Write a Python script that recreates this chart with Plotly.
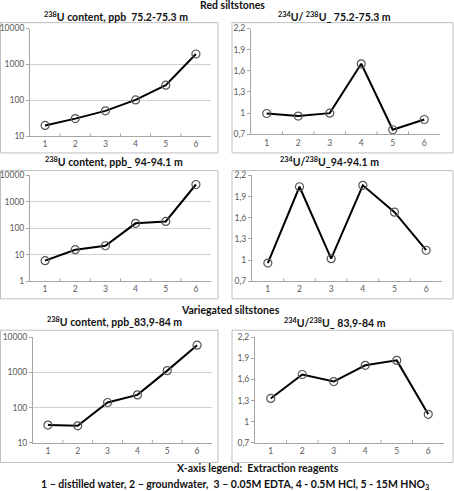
import plotly.graph_objects as go

W, H = 454, 491

categories = [1, 2, 3, 4, 5, 6]

u238_752 = [20, 31, 51, 103, 265, 1950]
ratio_752 = [0.995, 0.958, 1.0, 1.70, 0.765, 0.91]
u238_94 = [6.0, 15.6, 22, 155, 183, 4550]
ratio_94 = [0.958, 2.04, 1.02, 2.06, 1.68, 1.14]
u238_839 = [32, 30.5, 140, 230, 1120, 5900]
ratio_839 = [1.33, 1.67, 1.57, 1.80, 1.87, 1.105]

titles = [
    "<sup>238</sup>U content, ppb  75.2-75.3 m",
    "<sup>234</sup>U/ <sup>238</sup>U_ 75.2-75.3 m",
    "<sup>238</sup>U content, ppb_ 94-94.1 m",
    "<sup>234</sup>U/<sup>238</sup>U_94-94.1 m",
    "<sup>238</sup>U content, ppb_83,9-84 m",
    "<sup>234</sup>U/<sup>238</sup>U_ 83,9-84 m",
]

ratio_ticks = [0.7, 1.0, 1.3, 1.6, 1.9, 2.2]
ratio_text = ["0,7", "1", "1,3", "1,6", "1,9", "2,2"]
log_ticks_a = [10, 100, 1000, 10000]
log_text_a = ["10", "100", "1000", "10000"]
log_ticks_b = [1, 10, 100, 1000, 10000]
log_text_b = ["1", "10", "100", "1000", "10000"]

series = [u238_752, ratio_752, u238_94, ratio_94, u238_839, ratio_839]


def X(p):
    return p / W


def Y(p):
    return 1 - p / H


# plot areas in pixels: (left, right, top, bottom)
areas = [
    (30, 211, 24, 134),
    (251, 440, 24, 132),
    (30, 211, 174, 282),
    (252, 442, 174, 282),
    (33, 212, 339, 447),
    (255, 444, 339, 447),
]
title_pos = [(116, 12), (334, 12), (114, 160), (329, 160), (114, 323), (335, 324)]

FONT = "Lato"
TICKC = "#595959"

fig = go.Figure()
layout = dict(
    width=W, height=H, margin=dict(l=0, r=0, t=0, b=0),
    paper_bgcolor="white", plot_bgcolor="white", showlegend=False,
    font=dict(family=FONT, color="#222"),
)
annotations = []
shapes = []

for i, (vals, (l, r, t, b)) in enumerate(zip(series, areas)):
    n = i + 1
    xa = "x" if n == 1 else f"x{n}"
    ya = "y" if n == 1 else f"y{n}"
    fig.add_trace(go.Scatter(
        x=categories, y=vals, xaxis=xa, yaxis=ya, mode="lines+markers",
        line=dict(color="black", width=2),
        marker=dict(symbol="circle-open", size=8, color="#555", line=dict(width=1.2, color="#555")),
        cliponaxis=False,
    ))
    xkey = "xaxis" if n == 1 else f"xaxis{n}"
    ykey = "yaxis" if n == 1 else f"yaxis{n}"
    layout[xkey] = dict(
        domain=[X(l), X(r)], anchor=ya, range=[0.5, 6.5],
        tickvals=categories, ticktext=[str(c) for c in categories],
        showgrid=False, zeroline=False, showline=True, linecolor="#a6a6a6", linewidth=1,
        ticks="", tickfont=dict(size=8.5, color=TICKC, family=FONT),
        fixedrange=True,
    )
    is_log = (i % 2 == 0)
    if is_log:
        if i == 2:
            tv, tt, rg = log_ticks_b, log_text_b, [0, 4]
        else:
            tv, tt, rg = log_ticks_a, log_text_a, [1, 4]
        layout[ykey] = dict(
            domain=[Y(b), Y(t)], anchor=xa, type="log", range=rg,
            tickvals=tv, ticktext=tt, showgrid=True, gridcolor="#d0d0d0", gridwidth=1,
            zeroline=False, showline=True, linecolor="#a6a6a6", linewidth=1,
            ticks="outside", ticklen=3, tickcolor="#a6a6a6",
            tickfont=dict(size=8.5, color=TICKC, family=FONT),
        )
    else:
        layout[ykey] = dict(
            domain=[Y(b), Y(t)], anchor=xa, range=[0.7, 2.2],
            tickvals=ratio_ticks, ticktext=ratio_text, showgrid=False,
            zeroline=False, showline=True, linecolor="#a6a6a6", linewidth=1,
            ticks="outside", ticklen=3, tickcolor="#a6a6a6",
            tickfont=dict(size=8.5, color=TICKC, family=FONT),
        )
    # category separator ticks on x axis
    for k in range(1, 6):
        shapes.append(dict(type="line", xref=xa, yref="paper", x0=k + 0.5, x1=k + 0.5,
                           y0=Y(b), y1=Y(b - 3), line=dict(color="#a6a6a6", width=1)))
    tx, ty = title_pos[i]
    annotations.append(dict(text="<b>" + titles[i] + "</b>", x=X(tx), y=Y(ty), xref="paper", yref="paper",
                            xanchor="center", yanchor="middle", showarrow=False,
                            font=dict(size=10.5, family=FONT, color="#111")))

# chart-area borders
boxes = [
    (0.5, 218, 18, 151), (232, 453, 18, 151),
    (0.5, 218, 169, 300), (232, 453, 169, 300),
    (0.5, 218, 332, 467), (232, 453, 332, 467),
]
for (l, r, t, b) in boxes:
    shapes.append(dict(type="rect", xref="paper", yref="paper", x0=X(l), x1=X(r), y0=Y(b), y1=Y(t),
                       line=dict(color="#bfbfbf", width=1), layer="below"))

texts = [
    ("<b>Red siltstones</b>", 232, 0, 10.5),
    ("<b>Variegated siltstones</b>", 231, 311, 10.5),
    ("<b>X-axis legend:  Extraction reagents</b>", 258, 473, 10.5),
    ("<b>1 – distilled water, 2 – groundwater,  3 – 0.05M EDTA, 4 - 0.5M HCl, 5 - 15M HNO<sub>3</sub></b>", 235, 490, 10.5),
]
for txt, x, y, s in texts:
    annotations.append(dict(text=txt, x=X(x), y=Y(y), xref="paper", yref="paper",
                            xanchor="center", yanchor="middle", showarrow=False,
                            font=dict(size=s, family=FONT, color="#111")))

layout["annotations"] = annotations
layout["shapes"] = shapes
fig.update_layout(**layout)
fig.write_html("out.html")
